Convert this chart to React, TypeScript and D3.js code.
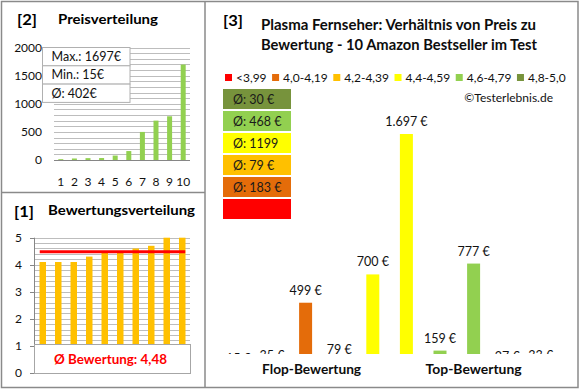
import React, { useEffect, useRef } from "react";
import * as d3 from "d3";

// ---------- data ----------
const rankLabels = ["1", "2", "3", "4", "5", "6", "7", "8", "9", "10"];
const sortedPrices = [15, 27, 33, 35, 79, 159, 499, 700, 777, 1697];
const priceTicks = [0, 500, 1000, 1500, 2000];
const sortedRatings = [4.1, 4.1, 4.1, 4.3, 4.5, 4.5, 4.6, 4.7, 5.0, 5.0];
const ratingTicks = [0, 1, 2, 3, 4, 5];
const ratingAverage = 4.48;
const productPrices = [15, 35, 499, 79, 700, 1697, 159, 777, 27, 33];
const productRatings = [4.1, 4.1, 4.1, 4.3, 4.5, 4.5, 4.6, 4.7, 5.0, 5.0];
const ratingClassLabels = ["<3,99", "4,0-4,19", "4,2-4,39", "4,4-4,59", "4,6-4,79", "4,8-5,0"];
const ratingClassMin = [0, 4.0, 4.2, 4.4, 4.6, 4.8];
const groupLabels = ["Flop-Bewertung", "Top-Bewertung"];

// ---------- styles ----------
const classColors = ["#FF0000", "#E46C0A", "#FFC000", "#FFFF00", "#92D050", "#77933C"];
const FONT = "Lato, 'Noto Sans', sans-serif";
const BORDER = "#8a8a8a";
const GRID = "#bdbdbd";

const classOf = (r: number) => {
  let c = 0;
  ratingClassMin.forEach((m, i) => {
    if (r >= m - 1e-9) c = i;
  });
  return c;
};
const euro = (v: number) => {
  const s = Math.round(v).toString().replace(/\B(?=(\d{3})+(?!\d))/g, ".");
  return s + "\u00a0€";
};

export default function App() {
  const ref = useRef<SVGSVGElement>(null);

  useEffect(() => {
    const svg = d3.select(ref.current);
    svg.selectAll("*").remove();
    svg.attr("font-family", FONT);

    // frames
    svg.append("rect").attr("x", 1.5).attr("y", 1.5).attr("width", 576.5).attr("height", 386)
      .attr("fill", "#fff").attr("stroke", BORDER).attr("stroke-width", 1.5);
    svg.append("line").attr("x1", 205).attr("x2", 205).attr("y1", 1.5).attr("y2", 387.5)
      .attr("stroke", BORDER).attr("stroke-width", 1.5);
    svg.append("line").attr("x1", 1.5).attr("x2", 205).attr("y1", 192.5).attr("y2", 192.5)
      .attr("stroke", BORDER).attr("stroke-width", 1.5);

    // ---------- panel [2] ----------
    const p2 = svg.append("g");
    p2.append("text").attr("x", 17).attr("y", 25).attr("font-size", 15).attr("font-weight", 700)
      .attr("textLength", 20).attr("lengthAdjust", "spacingAndGlyphs").text("[2]");
    p2.append("text").attr("x", 58).attr("y", 23.5).attr("font-size", 13.5).attr("font-weight", 700)
      .attr("textLength", 100).attr("lengthAdjust", "spacingAndGlyphs").text("Preisverteilung");

    const x2 = d3.scaleBand<string>().domain(rankLabels).range([54, 190]);
    const y2 = d3.scaleLinear().domain([0, 2000]).range([160, 47.5]);
    p2.append("g").selectAll("line").data(d3.range(0, 2001, 100)).join("line")
      .attr("x1", 54).attr("x2", 190).attr("y1", (d) => Math.round(y2(d)) + 0.5).attr("y2", (d) => Math.round(y2(d)) + 0.5)
      .attr("stroke", GRID).attr("stroke-width", 1);
    p2.append("line").attr("x1", 54).attr("x2", 190).attr("y1", y2(0) + 0.5).attr("y2", y2(0) + 0.5)
      .attr("stroke", "#868686");
    p2.append("g").selectAll("text").data(priceTicks).join("text")
      .attr("x", 42).attr("y", (d) => y2(d)).attr("dy", "0.35em").attr("text-anchor", "end")
      .attr("font-size", 12).attr("fill", "#111").text((d) => String(d));
    p2.append("g").selectAll("text").data(rankLabels).join("text")
      .attr("x", (d) => x2(d)! + x2.bandwidth() / 2).attr("y", 182).attr("dy", "0.35em")
      .attr("text-anchor", "middle").attr("font-size", 12).attr("fill", "#111").text((d) => d);
    const bw2 = 5;
    p2.append("g").selectAll("rect").data(sortedPrices).join("rect")
      .attr("x", (_, i) => x2(rankLabels[i])! + x2.bandwidth() / 2 - bw2 / 2)
      .attr("width", bw2)
      .attr("y", (d) => y2(d)).attr("height", (d) => y2(0) - y2(d))
      .attr("fill", "#92D050");
    // stats box
    const stats = [
      "Max.: " + d3.max(sortedPrices) + "€",
      "Min.: " + d3.min(sortedPrices) + "€",
      "Ø: " + Math.round(d3.mean(sortedPrices)!) + "€",
    ];
    const bx = 42.5, by = 47.5, bwid = 87.5, rowH = 18.3;
    stats.forEach((s, i) => {
      p2.append("rect").attr("x", bx).attr("y", by + i * rowH).attr("width", bwid).attr("height", rowH)
        .attr("fill", "#fff").attr("stroke", "#b0b0b0").attr("stroke-width", 1);
      p2.append("text").attr("x", bx + 9).attr("y", by + i * rowH + rowH / 2).attr("dy", "0.36em")
        .attr("font-size", 12.5).attr("fill", "#111").text(s);
    });

    // ---------- panel [1] ----------
    const p1 = svg.append("g");
    p1.append("text").attr("x", 14).attr("y", 217).attr("font-size", 15).attr("font-weight", 700)
      .attr("textLength", 20).attr("lengthAdjust", "spacingAndGlyphs").text("[1]");
    p1.append("text").attr("x", 48).attr("y", 214.5).attr("font-size", 13.5).attr("font-weight", 700)
      .attr("textLength", 147).attr("lengthAdjust", "spacingAndGlyphs").text("Bewertungsverteilung");
    const x1 = d3.scaleBand<string>().domain(rankLabels).range([35, 190]);
    const y1 = d3.scaleLinear().domain([0, 5]).range([372.7, 237.7]);
    p1.append("g").selectAll("line").data(d3.range(0, 5.001, 0.2)).join("line")
      .attr("x1", 34).attr("x2", 190).attr("y1", (d) => Math.round(y1(d)) + 0.5).attr("y2", (d) => Math.round(y1(d)) + 0.5)
      .attr("stroke", GRID);
    p1.append("line").attr("x1", 34.5).attr("x2", 34.5).attr("y1", y1(5)).attr("y2", y1(0))
      .attr("stroke", "#868686");
    p1.append("g").selectAll("line").data(ratingTicks).join("line")
      .attr("x1", 30).attr("x2", 34.5).attr("y1", (d) => Math.round(y1(d)) + 0.5).attr("y2", (d) => Math.round(y1(d)) + 0.5)
      .attr("stroke", "#868686");
    p1.append("g").selectAll("text").data(ratingTicks).join("text")
      .attr("x", 22).attr("y", (d) => y1(d)).attr("dy", "0.35em").attr("text-anchor", "end")
      .attr("font-size", 12).attr("fill", "#111").text((d) => String(d));
    const bw1 = 6.5;
    p1.append("g").selectAll("rect").data(sortedRatings).join("rect")
      .attr("x", (_, i) => x1(rankLabels[i])! + x1.bandwidth() / 2 - bw1 / 2)
      .attr("width", bw1)
      .attr("y", (d) => y1(d)).attr("height", (d) => y1(0) - y1(d))
      .attr("fill", "#FFC000");
    p1.append("line")
      .attr("x1", x1(rankLabels[0])! + x1.bandwidth() / 2 - 3)
      .attr("x2", x1(rankLabels[9])! + x1.bandwidth() / 2 + 3)
      .attr("y1", y1(ratingAverage)).attr("y2", y1(ratingAverage))
      .attr("stroke", "#FF0000").attr("stroke-width", 3);
    p1.append("rect").attr("x", 34.5).attr("y", 344.5).attr("width", 156).attr("height", 29)
      .attr("fill", "#fff").attr("stroke", "#a6a6a6");
    p1.append("text").attr("x", 110.5).attr("y", 359).attr("dy", "0.36em").attr("text-anchor", "middle")
      .attr("font-size", 14).attr("font-weight", 700).attr("fill", "#FF0000")
      .attr("textLength", 113).attr("lengthAdjust", "spacingAndGlyphs")
      .text("Ø Bewertung: " + ratingAverage.toFixed(2).replace(".", ","));

    // ---------- panel [3] ----------
    const p3 = svg.append("g");
    p3.append("text").attr("x", 223).attr("y", 26).attr("font-size", 15).attr("font-weight", 700)
      .attr("textLength", 20).attr("lengthAdjust", "spacingAndGlyphs").text("[3]");
    p3.append("text").attr("x", 261).attr("y", 29.5).attr("font-size", 14.5).attr("font-weight", 700)
      .attr("textLength", 275).attr("lengthAdjust", "spacingAndGlyphs").attr("fill", "#0d0d0d")
      .text("Plasma Fernseher: Verhältnis von Preis zu");
    p3.append("text").attr("x", 261).attr("y", 49.5).attr("font-size", 14.5).attr("font-weight", 700)
      .attr("textLength", 276).attr("lengthAdjust", "spacingAndGlyphs").attr("fill", "#0d0d0d")
      .text("Bewertung - 10 Amazon Bestseller im Test");

    // legend
    let lx = 225;
    ratingClassLabels.forEach((lab, i) => {
      p3.append("rect").attr("x", lx).attr("y", 74).attr("width", 7).attr("height", 7).attr("fill", classColors[i]);
      const t = p3.append("text").attr("x", lx + 11).attr("y", 81.5).attr("font-size", 12).attr("fill", "#111").text(lab);
      const w = (t.node() as SVGTextElement).getComputedTextLength();
      lx = lx + 11 + w + 5.5;
    });
    p3.append("text").attr("x", 553).attr("y", 101.5).attr("text-anchor", "end").attr("font-size", 12)
      .attr("fill", "#111").text("©Testerlebnis.de");

    // average boxes per rating class (highest first)
    const order = d3.range(ratingClassLabels.length).reverse();
    order.forEach((c, k) => {
      const prices = productPrices.filter((_, i) => classOf(productRatings[i]) === c);
      const y = 89 + k * 22;
      p3.append("rect").attr("x", 223).attr("y", y).attr("width", 68).attr("height", 20).attr("fill", classColors[c]);
      if (prices.length) {
        const avg = Math.round(d3.mean(prices)!);
        const label = "Ø: " + avg + (avg >= 1000 ? "" : " €");
        p3.append("text").attr("x", 233).attr("y", y + 10).attr("dy", "0.36em").attr("font-size", 12.5)
          .attr("fill", "#1a1a1a").text(label);
      }
    });

    // bars
    const idx = productPrices.map((_, i) => String(i));
    const x3 = d3.scaleBand<string>().domain(idx).range([221.6, 557.6]);
    const y3 = d3.scaleLinear().domain([0, d3.max(productPrices)!]).range([373, 134]);
    const defs = svg.append("defs");
    defs.append("clipPath").attr("id", "plotclip").append("rect")
      .attr("x", 206).attr("y", 60).attr("width", 370).attr("height", 294);
    const plot = p3.append("g").attr("clip-path", "url(#plotclip)");
    const bw3 = 13;
    plot.selectAll("rect").data(productPrices).join("rect")
      .attr("x", (_, i) => x3(idx[i])! + x3.bandwidth() / 2 - bw3 / 2)
      .attr("width", bw3)
      .attr("y", (d) => y3(d)).attr("height", (d) => y3(0) - y3(d))
      .attr("fill", (_, i) => classColors[classOf(productRatings[i])]);
    plot.selectAll("text").data(productPrices).join("text")
      .attr("x", (_, i) => x3(idx[i])! + x3.bandwidth() / 2)
      .attr("y", (d) => y3(d) - 8).attr("text-anchor", "middle").attr("font-size", 12.5)
      .attr("fill", "#111").text((d) => euro(d));

    // group labels
    const half = productPrices.length / 2;
    groupLabels.forEach((g, k) => {
      const a = x3(idx[k * half])!;
      const b = x3(idx[k * half + half - 1])! + x3.bandwidth();
      p3.append("text").attr("x", (a + b) / 2 + (k === 0 ? 6 : 0)).attr("y", 374).attr("text-anchor", "middle")
        .attr("font-size", 14).attr("font-weight", 700).attr("fill", "#0d0d0d")
        .attr("textLength", k === 0 ? 99 : 96).attr("lengthAdjust", "spacingAndGlyphs").text(g);
    });
  }, []);

  return (
    <svg ref={ref} width={580} height={390} style={{ display: "block", position: "absolute", left: 0, top: 0 }} />
  );
}
